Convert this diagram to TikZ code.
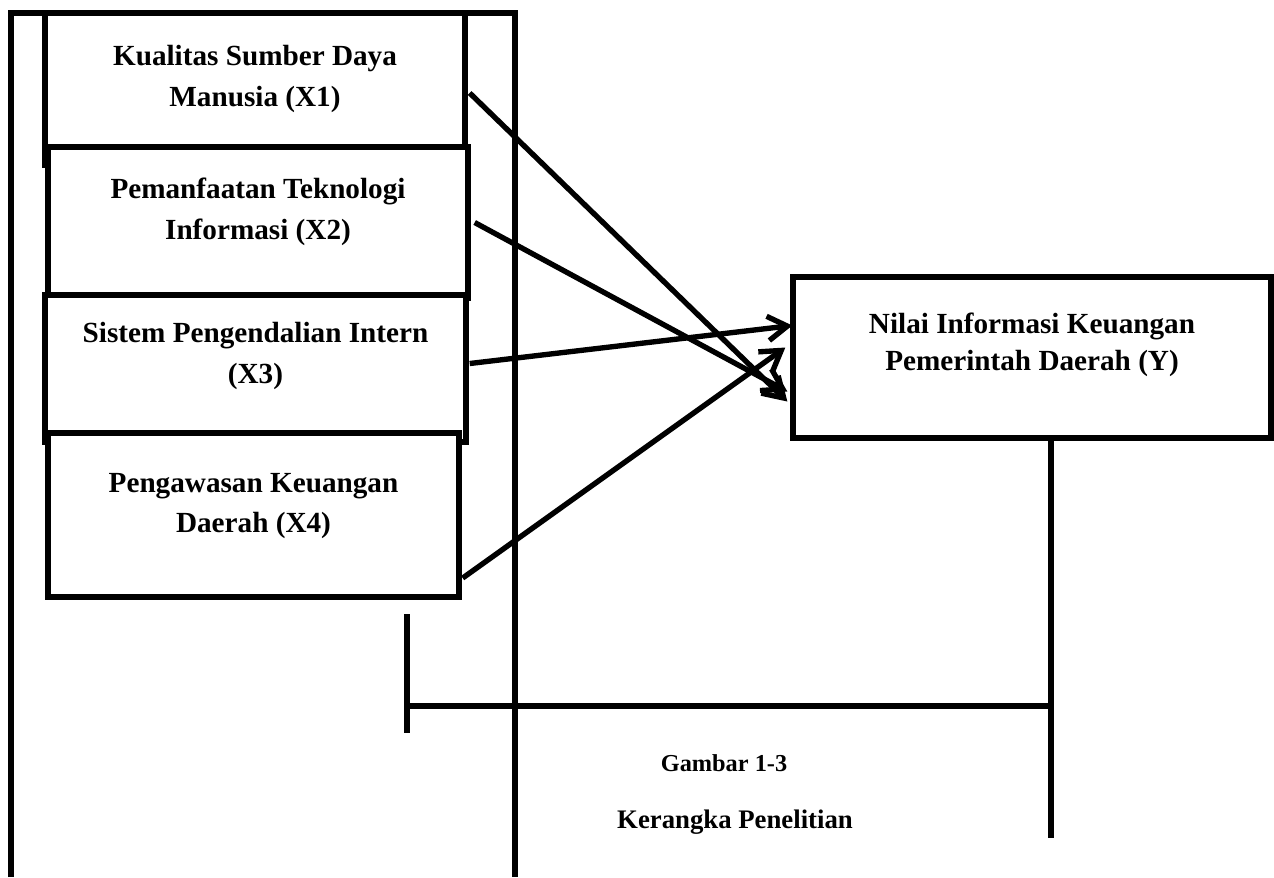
\documentclass[tikz,border=0pt]{standalone}
\usepackage{fontspec}
\setmainfont{Liberation Serif}
\usetikzlibrary{arrows.meta, calc, fit, positioning}

\begin{document}
\begin{tikzpicture}[
            x=0.411pt, y=-0.411pt,
            >={Straight Barb[length=8pt, width=10pt]}, % open barbed tips
            % Variable boxes
            varbox/.style={
                rectangle,
                draw=black,
                line width=2.2pt,
                fill=white,
                inner sep=0pt
            },
            boxtext/.style={
                align=center,
                font=\fontsize{12}{16.8}\selectfont\bfseries
            },
            line/.style={
                draw,
                ->,
                line width=2.2pt
            },
            link/.style={
                draw,
                line width=2.2pt
            }
        ]

        \useasboundingbox (0,0) rectangle (1274,877);

        % --- Outer frame ---
        \draw[link] (11,877) -- (11,13) -- (515,13) -- (515,877);

        % --- Nodes ---
        \node [varbox, fit={(45,13) (465,165)},
               label={[boxtext, yshift=4.2pt]center:Kualitas Sumber Daya\\Manusia (X1)}] (x1) {};
        \node [varbox, fit={(48,147) (468,298)},
               label={[boxtext, yshift=4.4pt]center:Pemanfaatan Teknologi\\Informasi (X2)}] (x2) {};
        \node [varbox, fit={(45,295) (466,442)},
               label={[boxtext, yshift=5.3pt]center:Sistem Pengendalian Intern\\(X3)}] (x3) {};
        \node [varbox, fit={(48,433) (459,597)},
               label={[boxtext, yshift=3.7pt]center:Pengawasan Keuangan\\Daerah (X4)}] (x4) {};
        \node [varbox, fit={(793,277) (1271,438)},
               label={[boxtext, font=\fontsize{12}{15.2}\selectfont\bfseries, yshift=5.3pt]center:Nilai Informasi Keuangan\\Pemerintah Daerah (Y)}] (y) {};

        \node [font=\fontsize{10}{12}\selectfont\bfseries] (gambar) at (724,763) {Gambar 1-3};
        \node [font=\fontsize{11}{13}\selectfont\bfseries] (judul) at (735,822) {Kerangka Penelitian};

        % --- Edges ---
        \path [line] ($(x1.east)+(2,4)$) -- ($(y.west)+(-3,44)$);
        \path [line] ($(x2.east)+(4,0)$) -- ($(y.west)+(-3,34)$);
        \path [line] ($(x3.east)+(1,-5)$) -- ($(y.west)+(2,-32)$);
        \path [line] ($(x4.east)+(1,63)$) -- ($(y.west)+(-5,-10)$);

        % --- Bracket below Y ---
        \coordinate (ybot) at (1051,838);
        \coordinate (tickup) at (407,614);
        \coordinate (tickdown) at (407,733);
        \coordinate (joint) at (407,706);
        \path [link] (y.south -| ybot) -- (ybot);
        \path [link] (tickup) -- (tickdown);
        \path [link] (joint) -- (joint -| ybot);

        \end{tikzpicture}
\end{document}
